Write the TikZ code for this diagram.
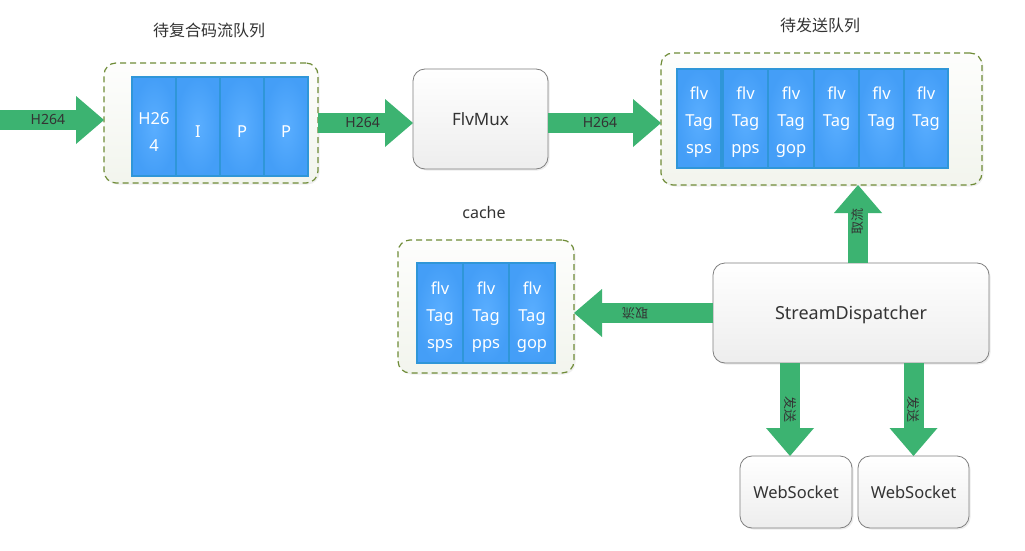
\documentclass[tikz,border=0pt]{standalone}
\usepackage{fontspec}
\setmainfont{Noto Sans}
\newfontfamily\cjk{Noto Sans CJK SC}
\usetikzlibrary{arrows.meta,shadows}
\definecolor{grn}{HTML}{3CB371}
\definecolor{olv}{HTML}{6F8C38}
\definecolor{cellA}{HTML}{5AAEFF}
\definecolor{cellB}{HTML}{449EF7}
\definecolor{cellE}{HTML}{2F96D8}
\definecolor{txt}{HTML}{333333}
\definecolor{gbd}{HTML}{7F7F7F}
\begin{document}
\begin{tikzpicture}[x=1pt,y=-1pt,
  queue/.style={draw=olv, line width=1.2pt, dash pattern=on 6pt off 4pt,
    rounded corners=12pt, top color=white!60!olv!3, bottom color=olv!9,
    anchor=north west, inner sep=0, outer sep=0,
    drop shadow={opacity=0.12, shadow xshift=1.5pt, shadow yshift=-1.5pt}},
  cell/.style={draw=cellE, line width=1.3pt, inner color=cellA, outer color=cellB,
    anchor=north west, inner sep=0, outer sep=0, minimum height=99pt},
  ctext/.style={text=white, font=\fontsize{16.5}{27}\selectfont, align=center,
    inner sep=0, yshift=-4pt},
  ctextb/.style={ctext, yshift=-1.5pt},
  proc/.style={draw=gbd, line width=0.8pt, rounded corners=12pt,
    top color=white, bottom color=black!7, text=txt, text depth=0pt,
    anchor=north west, inner sep=0, outer sep=0,
    drop shadow={opacity=0.15, shadow xshift=1.5pt, shadow yshift=-1.5pt}},
  title/.style={font=\cjk\fontsize{16}{16}\selectfont, text=txt, inner sep=0},
  flow/.style={draw=grn, line width=20pt,
    -{Triangle[length=28pt,width=48pt,line width=0pt]}},
  hlab/.style={font=\fontsize{14}{14}\selectfont, text=txt, inner sep=0},
  clab/.style={font=\cjk\fontsize{13}{13}\selectfont, text=txt, inner sep=0}
]
\useasboundingbox[fill=white] (0,0) rectangle (1025,551);

% titles
\node[title] (t1) at (209,30) {待复合码流队列};
\node[title] (t2) at (820,25) {待发送队列};
\node[font=\fontsize{16}{16}\selectfont, text=txt, inner sep=0] (t3) at (484,212) {cache};

% queue 1
\node[queue, minimum width=214pt, minimum height=120pt] (box1) at (104,63) {};
\node[cell, minimum width=44pt, label={[ctextb]center:H26\\4}] (q1a) at (132,77) {};
\node[cell, minimum width=44pt, label={[ctextb]center:I}] (q1b) at (176,77) {};
\node[cell, minimum width=44pt, label={[ctextb]center:P}] (q1c) at (220,77) {};
\node[cell, minimum width=44pt, label={[ctextb]center:P}] (q1d) at (264,77) {};

% FlvMux
\node[proc, minimum width=135pt, minimum height=100pt,
  font=\fontsize{17}{17}\selectfont] (mux) at (413,69) {FlvMux};

% queue 2
\node[queue, minimum width=321pt, minimum height=132pt] (box2) at (661,53) {};
\node[cell, minimum width=44pt, label={[ctext]center:flv\\Tag\\sps}] (q2a) at (677,69) {};
\node[cell, minimum width=45pt, label={[ctext]center:flv\\Tag\\pps}] (q2b) at (723,69) {};
\node[cell, minimum width=46pt, label={[ctext]center:flv\\Tag\\gop}] (q2c) at (768,69) {};
\node[cell, minimum width=45pt, label={[ctext]center:flv\\Tag\\\vphantom{p}}] (q2d) at (814,69) {};
\node[cell, minimum width=45pt, label={[ctext]center:flv\\Tag\\\vphantom{p}}] (q2e) at (859,69) {};
\node[cell, minimum width=44pt, label={[ctext]center:flv\\Tag\\\vphantom{p}}] (q2f) at (904,69) {};

% cache
\node[queue, minimum width=176pt, minimum height=133pt] (box3) at (398,240) {};
\node[cell, minimum width=46pt, minimum height=100pt, label={[ctext]center:flv\\Tag\\sps}] (c1) at (417,263) {};
\node[cell, minimum width=46pt, minimum height=100pt, label={[ctext]center:flv\\Tag\\pps}] (c2) at (463,263) {};
\node[cell, minimum width=46pt, minimum height=100pt, label={[ctext]center:flv\\Tag\\gop}] (c3) at (509,263) {};

% StreamDispatcher
\node[proc, minimum width=276pt, minimum height=100pt,
  font=\fontsize{18}{18}\selectfont] (disp) at (713,263) {StreamDispatcher};

% WebSockets
\node[proc, minimum width=112pt, minimum height=72pt,
  font=\fontsize{16.5}{16.5}\selectfont] (ws1) at (740,456) {WebSocket};
\node[proc, minimum width=111pt, minimum height=72pt,
  font=\fontsize{16.5}{16.5}\selectfont] (ws2) at (858,456) {WebSocket};

% connectors
\coordinate (src) at (0,120);
\draw[flow] (src) -- (box1.west |- src)
  node[hlab, pos=0.46] {H264};
\draw[flow] (box1.east) -- (mux.west |- box1.east)
  node[hlab, pos=0.47] {H264};
\draw[flow] ([yshift=-4pt]mux.east) -- ([yshift=-4pt]box2.west)
  node[hlab, pos=0.46] {H264};

\path ([xshift=7pt]disp.north) coordinate (u0);
\draw[flow] (u0) -- (box2.south -| u0)
  node[clab, pos=0.53, rotate=90] {取流};
\draw[flow] (disp.west) -- (box3.east |- disp.west)
  node[clab, pos=0.56, rotate=180] {取流};

\path ([xshift=-6pt]ws1.north) coordinate (d1);
\path ([xshift=0pt]ws2.north) coordinate (d2);
\draw[flow] (disp.south -| d1) -- (d1)
  node[clab, pos=0.5, rotate=-90] {发送};
\draw[flow] (disp.south -| d2) -- (d2)
  node[clab, pos=0.5, rotate=-90] {发送};
\end{tikzpicture}
\end{document}
